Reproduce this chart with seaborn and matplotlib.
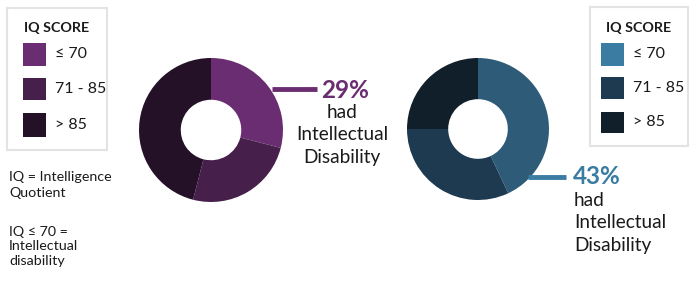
import matplotlib
matplotlib.use("Agg")
import matplotlib.pyplot as plt
from matplotlib.patches import Rectangle
import seaborn as sns

# ---- data ----
categories = ["\u2264 70", "71 - 85", "> 85"]
left_values = [29, 25, 46]
right_values = [43, 32, 25]
left_colors = ["#6B2D71", "#46204B", "#241027"]
right_colors = ["#2D5B78", "#1E3A50", "#111F2A"]
right_legend_colors = ["#3B7CA2", "#1E3A50", "#111F2A"]
legend_title = "IQ SCORE"
left_pct = "29%"
right_pct = "43%"
annot_lines = ["had", "Intellectual", "Disability"]
note1 = ["IQ = Intelligence", "Quotient"]
note2 = ["IQ \u2264 70 =", "Intellectual", "disability"]

sns.set_theme(style="white")
plt.rcParams["font.family"] = ["Lato", "DejaVu Sans"]

W, H = 700, 281
fig = plt.figure(figsize=(W / 100, H / 100), dpi=100)
fig.patch.set_facecolor("white")


def donut(cx, cy, r, values, colors):
    ax = fig.add_axes([(cx - r) / W, (H - cy - r) / H, 2 * r / W, 2 * r / H])
    ax.pie(values, colors=colors, startangle=90, counterclock=False,
           wedgeprops=dict(width=0.58, edgecolor="none", linewidth=0))
    ax.set_xlim(-1, 1)
    ax.set_ylim(-1, 1)
    ax.set_aspect("equal")
    ax.axis("off")
    return ax


donut(211, 130, 72, left_values, left_colors)
donut(478, 129, 71, right_values, right_colors)

ov = fig.add_axes([0, 0, 1, 1], zorder=5)
ov.set_xlim(0, W)
ov.set_ylim(H, 0)
ov.axis("off")
ov.patch.set_alpha(0)

TXT = "#1a1a1a"


def legend_box(x0, y0, x1, y1, title_x, sw_x, lab_x, sw_ys, colors):
    ov.add_patch(Rectangle((x0, y0), x1 - x0, y1 - y0, fill=False,
                           edgecolor="#E3E3E3", linewidth=1.5))
    ov.text(title_x, 28, legend_title, ha="center", va="center",
            fontsize=10.3, fontweight="bold", color=TXT)
    for (ya, yb), c, lab in zip(sw_ys, colors, categories):
        ov.add_patch(Rectangle((sw_x, ya), 23, yb - ya, facecolor=c,
                               edgecolor="none"))
        ov.text(lab_x, (ya + yb) / 2, lab, ha="left", va="center",
                fontsize=11.5, color=TXT)


legend_box(7, 8, 107, 150, 57, 23, 55,
           [(43, 66), (78, 100), (113, 137)], left_colors)
legend_box(590, 7, 688, 146, 639, 601, 633,
           [(43, 66), (77, 99), (112, 133)], right_legend_colors)

# left annotation
ov.plot([272, 317], [89, 89], color=left_colors[0], lw=3.5,
        solid_capstyle="butt")
ov.text(345, 90, left_pct, ha="center", va="center", fontsize=17.5,
        fontweight="bold", color=left_colors[0])
for txt, y in zip(annot_lines, [113, 135, 157]):
    ov.text(342, y, txt, ha="center", va="center", fontsize=13.7,
            color=TXT)

# right annotation
ov.plot([528, 566], [177, 177], color=right_legend_colors[0], lw=3.5,
        solid_capstyle="butt")
ov.text(573, 177, right_pct, ha="left", va="center", fontsize=17.5,
        fontweight="bold", color=right_legend_colors[0])
for txt, y in zip(annot_lines, [200, 222, 245]):
    ov.text(574, y, txt, ha="left", va="center", fontsize=13.7,
            color=TXT)

# notes
for txt, y in zip(note1, [177, 193]):
    ov.text(9, y, txt, ha="left", va="center", fontsize=10.3, color=TXT)
for txt, y in zip(note2, [232, 246, 261]):
    ov.text(9, y, txt, ha="left", va="center", fontsize=10.3, color=TXT)

fig.savefig("out.png", dpi=100, facecolor="white")
